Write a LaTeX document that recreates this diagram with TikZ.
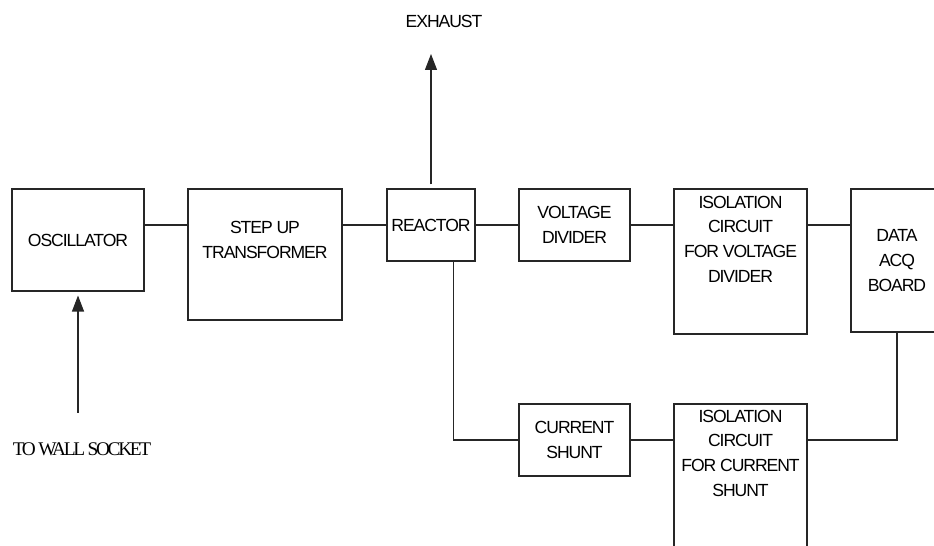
\documentclass[tikz,border=0pt]{standalone}
\usepackage{fontspec}
\setmainfont{Liberation Sans}
\newfontfamily\wallfont{Liberation Serif}
\usepackage{tikz}
\usetikzlibrary{arrows.meta,calc}

\begin{document}
\begin{tikzpicture}[
    blk/.style={draw=black!85, line width=0.6pt, align=center, inner sep=1pt, font=\fontsize{10}{14}\selectfont\addfontfeature{LetterSpace=-6}},
    wire/.style={draw=black!85, line width=0.6pt},
    flow/.style={wire, -{Triangle[length=3.2mm, width=2.4mm]}, shorten >=0.08cm, shorten <=0.08cm},
    lbl/.style={font=\fontsize{10}{12}\selectfont\addfontfeature{LetterSpace=-6}}
]
    \useasboundingbox (0,0) rectangle (18.68,10.92);

    % Top row
    \node[blk, minimum width=2.64cm, minimum height=2.04cm] (osc) at (1.56,6.12) {OSCILLATOR};
    \node[blk, minimum width=3.08cm, minimum height=2.62cm, text depth=0.58cm] (step) at (5.30,5.83) {STEP UP\\TRANSFORMER};
    \node[blk, minimum width=1.76cm, minimum height=1.44cm] (reactor) at (8.62,6.42) {REACTOR};
    \node[blk, minimum width=2.22cm, minimum height=1.44cm] (vdiv) at (11.49,6.42) {VOLTAGE\\DIVIDER};
    \node[blk, minimum width=2.66cm, minimum height=2.90cm, text depth=0.9cm] (isov) at (14.81,5.69) {ISOLATION\\CIRCUIT\\FOR VOLTAGE\\DIVIDER};
    \node[blk, minimum width=1.84cm, minimum height=2.86cm] (daq) at (17.94,5.71) {DATA\\ACQ\\BOARD};

    % Bottom row
    \node[blk, minimum width=2.22cm, minimum height=1.44cm] (shunt) at (11.49,2.12) {CURRENT\\SHUNT};
    \node[blk, minimum width=2.66cm, minimum height=2.90cm, text depth=0.94cm] (isoc) at (14.81,1.39) {ISOLATION\\CIRCUIT\\FOR CURRENT\\SHUNT};

    % Inlet and outlet
    \coordinate (exhaust) at (8.62,9.92);
    \node[lbl] (exhaustlbl) at (8.88,10.49) {EXHAUST};
    \coordinate (wall) at (1.56,2.58);
    \node[font=\wallfont\fontsize{11}{13}\selectfont\addfontfeature{LetterSpace=-12}] (walllbl) at (1.64,1.94) {TO WALL SOCKET};

    % Voltage path
    \draw[wire] (osc.east |- reactor.west) -- (step.west |- reactor.west);
    \draw[wire] (step.east |- reactor.west) -- (reactor.west);
    \draw[wire] (reactor.east) -- (vdiv.west);
    \draw[wire] (vdiv.east) -- (isov.west |- vdiv.east);
    \draw[wire] (isov.east |- vdiv.east) -- (daq.west |- vdiv.east);

    % Current path
    \draw[wire] ($(reactor.south)!0.5!(reactor.south east)$) |- (shunt.west);
    \draw[wire] (shunt.east) -- (isoc.west |- shunt.east);
    \draw[wire] (isoc.east |- shunt.east) -| (daq.south);

    % Arrows
    \draw[flow] (reactor.north) -- (exhaust);
    \draw[flow] (wall) -- (osc.south);

\end{tikzpicture}
\end{document}
